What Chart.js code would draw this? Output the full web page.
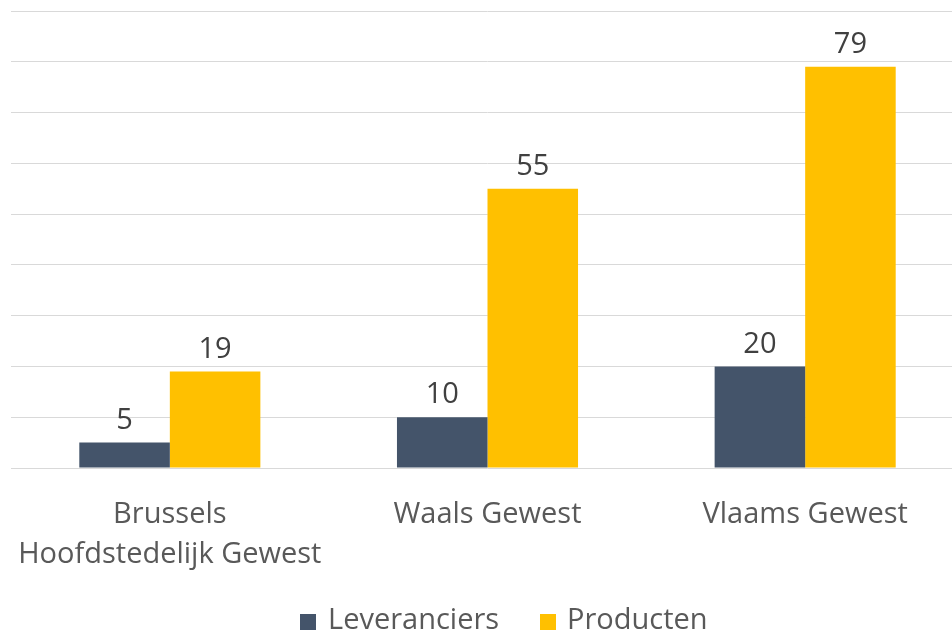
<!DOCTYPE html>
<html><head><meta charset="utf-8">
<script src="https://cdn.jsdelivr.net/npm/chart.js@4"></script>
<style>
html,body{margin:0;padding:0;background:#fff;overflow:hidden;width:952px;height:634px;}
#wrap{position:absolute;left:0;top:0;width:1010px;height:634px;}
</style></head>
<body>
<div id="wrap"><canvas id="c"></canvas></div>
<script>
const categories = [["Brussels","Hoofdstedelijk Gewest"], "Waals Gewest", "Vlaams Gewest"];
const seriesNames = ["Leveranciers", "Producten"];
const leveranciers = [5, 10, 20];
const producten = [19, 55, 79];
const colors = ["#44546A", "#FFC000"];
const FONT = "'Open Sans', sans-serif";
const FS = 29;

const valueLabels = {
  id: 'valueLabels',
  afterDatasetsDraw(chart) {
    const ctx = chart.ctx;
    ctx.save();
    ctx.font = FS + "px " + FONT;
    ctx.fillStyle = "#404040";
    ctx.textAlign = "center";
    ctx.textBaseline = "middle";
    chart.data.datasets.forEach((ds, i) => {
      chart.getDatasetMeta(i).data.forEach((bar, j) => {
        ctx.fillText(String(ds.data[j]), bar.x, bar.y - 22);
      });
    });
    ctx.restore();
  }
};

const customLegend = {
  id: 'customLegend',
  afterDraw(chart) {
    const ctx = chart.ctx;
    ctx.save();
    ctx.font = FS + "px " + FONT;
    ctx.textBaseline = "middle";
    ctx.textAlign = "left";
    const items = [{box: 300, text: 328}, {box: 540, text: 567}];
    items.forEach((it, i) => {
      ctx.fillStyle = colors[i];
      ctx.fillRect(it.box, 614, 16, 16);
      ctx.fillStyle = "#595959";
      ctx.fillText(seriesNames[i], it.text, 621);
    });
    ctx.restore();
  }
};

new Chart(document.getElementById('c'), {
  type: 'bar',
  data: {
    labels: categories,
    datasets: [
      {label: seriesNames[0], data: leveranciers, backgroundColor: colors[0]},
      {label: seriesNames[1], data: producten, backgroundColor: colors[1]}
    ]
  },
  options: {
    responsive: true,
    maintainAspectRatio: false,
    animation: false,
    devicePixelRatio: 1,
    layout: {padding: {left: 11, right: 46, top: 11, bottom: 0}},
    plugins: {legend: {display: false}, tooltip: {enabled: false}},
    datasets: {bar: {categoryPercentage: 0.57, barPercentage: 1.0}},
    scales: {
      x: {
        grid: {display: false, drawTicks: false},
        border: {display: false},
        ticks: {color: "#595959", font: {family: FONT, size: FS, lineHeight: 40/FS}, padding: 27, maxRotation: 0, autoSkip: false},
        afterFit(s) { s.height = 166; s.paddingLeft = 0; s.paddingRight = 0; }
      },
      y: {
        min: 0, max: 90,
        ticks: {display: false, stepSize: 10},
        grid: {color: "#D9D9D9", lineWidth: 1, drawTicks: false},
        border: {display: false},
        afterFit(s) { s.width = 0; s.paddingTop = 0; s.paddingBottom = 0; }
      }
    }
  },
  plugins: [valueLabels, customLegend]
});
</script>
</body></html>
